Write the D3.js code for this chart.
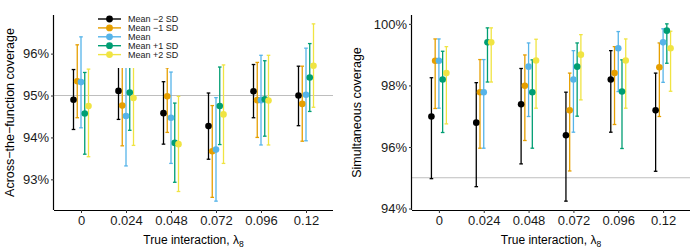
<!DOCTYPE html>
<html>
<head>
<meta charset="utf-8">
<script src="https://cdn.jsdelivr.net/npm/d3@7"></script>
<style>
  body { margin: 0; background: #fff; }
  svg { display: block; font-family: "Liberation Sans", Arial, sans-serif; }
</style>
</head>
<body>
<div id="chart"></div>
<script>
const lambdas = [0, 0.024, 0.048, 0.072, 0.096, 0.12];
const lambdaLabels = ["0", "0.024", "0.048", "0.072", "0.096", "0.12"];
const groups = ["Mean \u22122 SD", "Mean \u22121 SD", "Mean", "Mean +1 SD", "Mean +2 SD"];
const colors = ["#000000", "#E69F00", "#56B4E9", "#009E73", "#F0E442"];

// across-the-function coverage (%), one row per group
const acrossEst = [
  [94.90, 95.11, 94.58, 94.27, 95.10, 95.00],
  [95.34, 94.76, 94.98, 93.67, 94.89, 94.80],
  [95.32, 94.51, 94.47, 93.71, 94.89, 95.02],
  [94.57, 95.07, 93.87, 94.75, 94.91, 95.43],
  [94.75, 94.94, 93.84, 94.55, 94.88, 95.71]
];
const acrossLow = [
  [94.19, 94.43, 93.84, 93.48, 94.47, 94.28],
  [94.47, 93.80, 94.12, 92.57, 94.00, 93.91],
  [94.23, 93.32, 93.38, 92.48, 93.82, 93.92],
  [93.60, 94.17, 92.93, 93.83, 94.03, 94.62],
  [93.54, 93.81, 92.71, 93.38, 93.82, 94.72]
];
const acrossHigh = [
  [95.62, 95.80, 95.33, 95.06, 95.74, 95.70],
  [96.21, 95.72, 95.66, 94.76, 95.79, 95.70],
  [96.40, 95.70, 95.56, 94.95, 95.96, 96.13],
  [95.55, 95.96, 94.82, 95.68, 95.83, 96.24],
  [95.63, 96.07, 94.98, 95.73, 95.96, 96.71]
];
const acrossTicks = [93, 94, 95, 96];

// simultaneous coverage (%)
const simEst = [
  [96.99, 96.79, 97.39, 96.38, 98.19, 97.19],
  [98.80, 97.78, 97.99, 97.19, 98.40, 98.59],
  [98.80, 97.78, 98.61, 98.19, 99.21, 99.40],
  [98.19, 99.40, 97.78, 98.61, 97.80, 99.78],
  [98.40, 99.40, 98.81, 99.00, 98.81, 99.21]
];
const simLow = [
  [94.97, 94.71, 95.45, 94.24, 96.48, 95.21],
  [97.25, 95.96, 96.21, 95.22, 96.73, 96.99],
  [97.26, 95.96, 96.99, 96.48, 97.80, 98.10],
  [96.47, 98.11, 95.96, 97.00, 95.95, 98.72],
  [96.75, 98.11, 97.26, 97.53, 97.26, 97.81]
];
const simHigh = [
  [98.25, 98.09, 98.55, 97.78, 99.13, 98.40],
  [99.51, 98.84, 98.99, 98.40, 99.26, 99.38],
  [99.51, 98.84, 99.38, 99.13, 99.75, 99.84],
  [99.11, 99.87, 98.83, 99.38, 98.83, 100.0],
  [99.26, 99.87, 99.50, 99.65, 99.51, 99.76]
];
const simTicks = [94, 96, 98, 100];

const nominal = 95;
const width = 690, height = 251;
const dodge = 0.002;

const svg = d3.select("#chart").append("svg")
  .attr("width", width)
  .attr("height", height);

function panel(opts) {
  const { left, right, top, bottom, est, low, high, ticks, title, legend } = opts;

  // ggplot-like 5% padding on the y range
  const lo = d3.min(low.flat()), hi = d3.max(high.flat());
  const pad = (hi - lo) * 0.05;
  const y = d3.scaleLinear().domain([lo - pad, hi + pad]).range([bottom, top]);
  const step = lambdas[1] - lambdas[0];
  const x = d3.scaleLinear()
    .domain([lambdas[0] - 0.6 * step, lambdas[lambdas.length - 1] + 0.6 * step])
    .range([left, right]);

  const g = svg.append("g");

  // reference line at nominal level
  g.append("line")
    .attr("x1", left).attr("x2", right)
    .attr("y1", y(nominal)).attr("y2", y(nominal))
    .attr("stroke", "#bebebe").attr("stroke-width", 1.1);

  const rows = [];
  groups.forEach((grp, gi) => {
    lambdas.forEach((l, li) => {
      rows.push({ gi, x: l + (gi - 2) * dodge, est: est[gi][li], low: low[gi][li], high: high[gi][li] });
    });
  });

  // error bars
  const bars = g.append("g").selectAll("g").data(rows).join("g")
    .attr("stroke", d => colors[d.gi])
    .attr("stroke-width", 1.3);
  bars.append("line")
    .attr("x1", d => x(d.x)).attr("x2", d => x(d.x))
    .attr("y1", d => y(d.low)).attr("y2", d => y(d.high));
  bars.append("line")
    .attr("x1", d => x(d.x) - 1.8).attr("x2", d => x(d.x) + 1.8)
    .attr("y1", d => y(d.low)).attr("y2", d => y(d.low));
  bars.append("line")
    .attr("x1", d => x(d.x) - 1.8).attr("x2", d => x(d.x) + 1.8)
    .attr("y1", d => y(d.high)).attr("y2", d => y(d.high));

  // points
  g.append("g").selectAll("circle").data(rows).join("circle")
    .attr("cx", d => x(d.x)).attr("cy", d => y(d.est))
    .attr("r", 3.3)
    .attr("fill", d => colors[d.gi]);

  // axes
  const yAxis = d3.axisLeft(y).tickValues(ticks).tickSize(3).tickPadding(2).tickFormat(d => d + "%");
  const ya = g.append("g").attr("transform", `translate(${left},0)`).call(yAxis);
  ya.select(".domain").attr("stroke-width", 1.2).attr("d", `M-0.5,${top}V${bottom}`);

  const xAxis = d3.axisBottom(x).tickValues(lambdas).tickSize(3).tickPadding(3)
    .tickFormat((d, i) => lambdaLabels[i]);
  const xa = g.append("g").attr("transform", `translate(0,${bottom})`).call(xAxis);
  xa.select(".domain").attr("stroke-width", 1.2).attr("d", `M${left},0.5H${right}`);

  [ya, xa].forEach(a => {
    a.selectAll("text").attr("font-size", 13).attr("fill", "#1a1a1a")
      .attr("font-family", "Liberation Sans, Arial, sans-serif");
    a.selectAll(".tick line").attr("stroke", "#333");
  });

  // axis titles
  g.append("text")
    .attr("transform", `translate(${opts.ytitleX},${(top + bottom) / 2}) rotate(-90)`)
    .attr("text-anchor", "middle")
    .attr("dominant-baseline", "central")
    .attr("font-size", 12.5)
    .text(title);

  const xt = g.append("text")
    .attr("x", (left + right) / 2).attr("y", 244)
    .attr("text-anchor", "middle")
    .attr("font-size", 12);
  xt.append("tspan").text("True interaction, \u03bb");
  xt.append("tspan").attr("font-size", 8.5).attr("dy", 3).text("8");

  if (legend) {
    const lg = g.append("g");
    lg.append("rect")
      .attr("x", 92).attr("y", 9).attr("width", 94).attr("height", 59)
      .attr("fill", "#fff");
    groups.forEach((grp, gi) => {
      const ry = 19 + gi * 8.9;
      lg.append("line")
        .attr("x1", 98).attr("x2", 121).attr("y1", ry).attr("y2", ry)
        .attr("stroke", colors[gi]).attr("stroke-width", 1.4);
      lg.append("circle").attr("cx", 109.5).attr("cy", ry).attr("r", 3.4).attr("fill", colors[gi]);
      lg.append("text")
        .attr("x", 128).attr("y", ry)
        .attr("dominant-baseline", "central")
        .attr("font-size", 9)
        .attr("fill", "#1a1a1a")
        .text(grp);
    });
  }
}

panel({
  left: 54, right: 333, top: 15, bottom: 210,
  est: acrossEst, low: acrossLow, high: acrossHigh, ticks: acrossTicks,
  title: "Across\u2212the\u2212function coverage", ytitleX: 10, legend: true
});

panel({
  left: 412, right: 690, top: 15, bottom: 210,
  est: simEst, low: simLow, high: simHigh, ticks: simTicks,
  title: "Simultaneous coverage", ytitleX: 357, legend: false
});
</script>
</body>
</html>
